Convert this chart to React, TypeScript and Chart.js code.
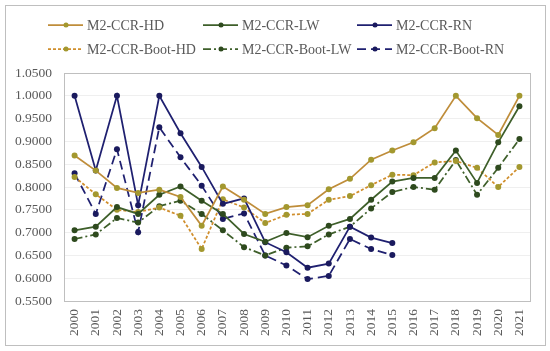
import React, { useEffect, useRef } from "react";
import { Chart, registerables } from "chart.js";

Chart.register(...registerables);

const years = ["2000","2001","2002","2003","2004","2005","2006","2007","2008","2009","2010","2011","2012","2013","2014","2015","2016","2017","2018","2019","2020","2021"];
const hd = [0.869,0.836,0.798,0.787,0.794,0.778,0.715,0.801,0.772,0.741,0.756,0.760,0.795,0.818,0.860,0.880,0.898,0.929,1.000,0.951,0.914,1.000];
const lw = [0.705,0.713,0.756,0.741,0.783,0.801,0.770,0.741,0.697,0.680,0.699,0.690,0.715,0.730,0.772,0.812,0.820,0.820,0.880,0.809,0.898,0.977];
const rn = [1.000,0.836,1.000,0.760,1.000,0.918,0.844,0.763,0.775,0.679,0.657,0.623,0.632,0.713,0.689,0.677,null,null,null,null,null,null];
const bootHd = [0.822,0.784,0.750,0.745,0.755,0.737,0.664,0.773,0.755,0.721,0.739,0.741,0.772,0.780,0.804,0.827,0.826,0.854,0.857,0.842,0.800,0.844];
const bootLw = [0.686,0.696,0.732,0.722,0.758,0.770,0.741,0.705,0.668,0.650,0.667,0.670,0.696,0.713,0.753,0.789,0.800,0.794,0.859,0.783,0.842,0.905];
const bootRn = [0.830,0.741,0.883,0.701,0.931,0.865,0.803,0.730,0.742,0.650,0.628,0.598,0.605,0.686,0.664,0.651,null,null,null,null,null,null];

const FONT = "'Liberation Serif', 'Times New Roman', serif";
const TEXT = "#595959";

const legendPlugin = {
  id: "customLegend",
  afterDraw(chart: any) {
    const ctx = chart.ctx;
    const cols = [48, 203, 357];
    const rows = [25, 49];
    ctx.save();
    chart.data.datasets.forEach((ds: any, i: number) => {
      const x = cols[i % 3];
      const y = rows[Math.floor(i / 3)];
      ctx.beginPath();
      ctx.setLineDash(ds.borderDash || []);
      ctx.strokeStyle = ds.borderColor;
      ctx.lineWidth = ds.borderWidth;
      ctx.moveTo(x, y);
      ctx.lineTo(x + 35, y);
      ctx.stroke();
      ctx.setLineDash([]);
      ctx.beginPath();
      ctx.fillStyle = ds.pointBackgroundColor;
      ctx.arc(x + 18, y, 2.5, 0, Math.PI * 2);
      ctx.fill();
      ctx.fillStyle = TEXT;
      ctx.font = "14px " + FONT;
      ctx.textAlign = "left";
      ctx.textBaseline = "middle";
      ctx.fillText(ds.label, x + 39, y + 1);
    });
    ctx.restore();
  },
};

const framePlugin = {
  id: "frame",
  beforeDraw(chart: any) {
    const ctx = chart.ctx;
    ctx.save();
    ctx.fillStyle = "#ffffff";
    ctx.fillRect(0, 0, chart.width, chart.height);
    ctx.strokeStyle = "#BFBFBF";
    ctx.lineWidth = 1;
    ctx.strokeRect(5.5, 5.5, 540, 340);
    ctx.restore();
  },
  beforeDatasetsDraw(chart: any) {
    const { ctx, chartArea } = chart;
    ctx.save();
    ctx.strokeStyle = "#BFBFBF";
    ctx.lineWidth = 1;
    ctx.strokeRect(
      Math.round(chartArea.left) + 0.5,
      Math.round(chartArea.top) + 0.5,
      Math.round(chartArea.right - chartArea.left),
      Math.round(chartArea.bottom - chartArea.top)
    );
    ctx.restore();
  },
};

export default function App() {
  const ref = useRef<HTMLCanvasElement | null>(null);
  useEffect(() => {
    if (!ref.current) return;
    const mk = (label: string, data: any[], line: string, point: string, dash: number[]) => ({
      label,
      data,
      borderColor: line,
      backgroundColor: point,
      pointBackgroundColor: point,
      pointBorderColor: point,
      pointRadius: 3,
      pointBorderWidth: 0,
      borderWidth: 1.75,
      borderDash: dash,
      tension: 0,
      spanGaps: false,
      fill: false,
    });
    const chart = new Chart(ref.current, {
      type: "line",
      data: {
        labels: years,
        datasets: [
          mk("M2-CCR-HD", hd, "#BF8D3A", "#A3982F", []),
          mk("M2-CCR-LW", lw, "#3E5F2A", "#2E4A1E", []),
          mk("M2-CCR-RN", rn, "#1F2070", "#1A1A5E", []),
          mk("M2-CCR-Boot-HD", bootHd, "#D08E2C", "#A3982F", [3, 2]),
          mk("M2-CCR-Boot-LW", bootLw, "#3E5F2A", "#2E4A1E", [8, 3, 2, 3]),
          mk("M2-CCR-Boot-RN", bootRn, "#1F2070", "#1A1A5E", [9, 5]),
        ],
      },
      options: {
        animation: false,
        responsive: false,
        maintainAspectRatio: false,
        layout: { padding: { top: 73, right: 20, left: 0, bottom: 0 } },
        plugins: { legend: { display: false }, tooltip: { enabled: false } },
        scales: {
          x: {
            offset: true,
            grid: { display: false, drawTicks: false },
            border: { display: false },
            ticks: {
              autoSkip: false,
              minRotation: 90,
              maxRotation: 90,
              padding: 8,
              color: TEXT,
              font: { family: FONT, size: 13.5 },
            },
            afterFit(scale: any) {
              scale.height = 50;
            },
          },
          y: {
            min: 0.55,
            max: 1.05,
            grid: { color: "#EFEFEF", drawTicks: false },
            border: { display: false },
            ticks: {
              stepSize: 0.05,
              padding: 12,
              color: TEXT,
              font: { family: FONT, size: 13.5 },
              callback: (v: any) => Number(v).toFixed(4),
            },
            afterFit(scale: any) {
              scale.width = 64;
            },
          },
        },
      },
      plugins: [framePlugin, legendPlugin],
    });
    return () => chart.destroy();
  }, []);
  return (
    <div style={{ position: "absolute", left: 0, top: 0, width: 550, height: 351 }}>
      <canvas ref={ref} width={550} height={351} style={{ width: 550, height: 351 }} />
    </div>
  );
}
